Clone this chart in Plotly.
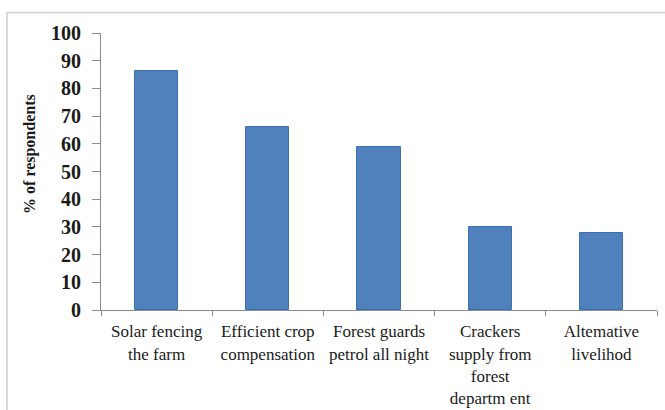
import plotly.graph_objects as go

# Survey responses: suggested mitigation measures
categories = [
    "Solar fencing<br>the farm",
    "Efficient crop<br>compensation",
    "Forest guards<br>petrol all night",
    "Crackers<br>supply from<br>forest<br>departm ent",
    "Altemative<br>livelihod",
]
respondents_pct = [86.3, 66.2, 59.0, 29.9, 27.8]
y_ticks = [0, 10, 20, 30, 40, 50, 60, 70, 80, 90, 100]

W, H = 665, 410
L, R, T, B = 101, 8, 33, 100

fig = go.Figure(
    go.Bar(
        x=categories,
        y=respondents_pct,
        width=0.39,
        marker=dict(color="#4f81bd", line=dict(color="#3d6fae", width=1)),
    )
)

axis_color = "#8a8a8a"
text_color = "#1a1a1a"

fig.update_layout(
    width=W,
    height=H,
    margin=dict(l=L, r=R, t=T, b=B),
    paper_bgcolor="white",
    plot_bgcolor="white",
    showlegend=False,
    bargap=0,
    font=dict(family="Liberation Serif", color=text_color),
    xaxis=dict(
        type="category",
        automargin=False,
        showgrid=False,
        showline=True,
        linecolor=axis_color,
        linewidth=1,
        ticks="outside",
        tickson="boundaries",
        ticklen=5,
        tickcolor=axis_color,
        tickfont=dict(family="Liberation Serif", size=17, color=text_color),
        ticklabelstandoff=6,
        range=[-0.5, 4.5],
    ),
    yaxis=dict(
        range=[0, 100],
        automargin=False,
        tickvals=y_ticks,
        showgrid=False,
        zeroline=False,
        showline=True,
        linecolor=axis_color,
        linewidth=1,
        ticks="outside",
        ticklen=8,
        tickcolor=axis_color,
        tickfont=dict(family="Liberation Serif", size=20, color=text_color, weight="bold"),
        ticklabelstandoff=7,
    ),
    shapes=[
        # light chart-area frame
        dict(
            type="rect",
            xref="paper",
            yref="paper",
            x0=(7 - L) / (W - L - R),
            x1=1.5,
            y0=-1.0,
            y1=(H - B - 12.5) / (H - B - T),
            line=dict(color="#cfcfcf", width=1.5),
            fillcolor="rgba(0,0,0,0)",
            layer="below",
        )
    ],
    annotations=[
        dict(
            text="% of respondents",
            textangle=-90,
            xref="paper",
            yref="paper",
            x=(30 - L) / (W - L - R),
            y=(H - B - 154) / (H - B - T),
            xanchor="center",
            yanchor="middle",
            showarrow=False,
            font=dict(family="Liberation Serif", size=16, color=text_color, weight="bold"),
        )
    ],
)

fig.write_html("out.html")
